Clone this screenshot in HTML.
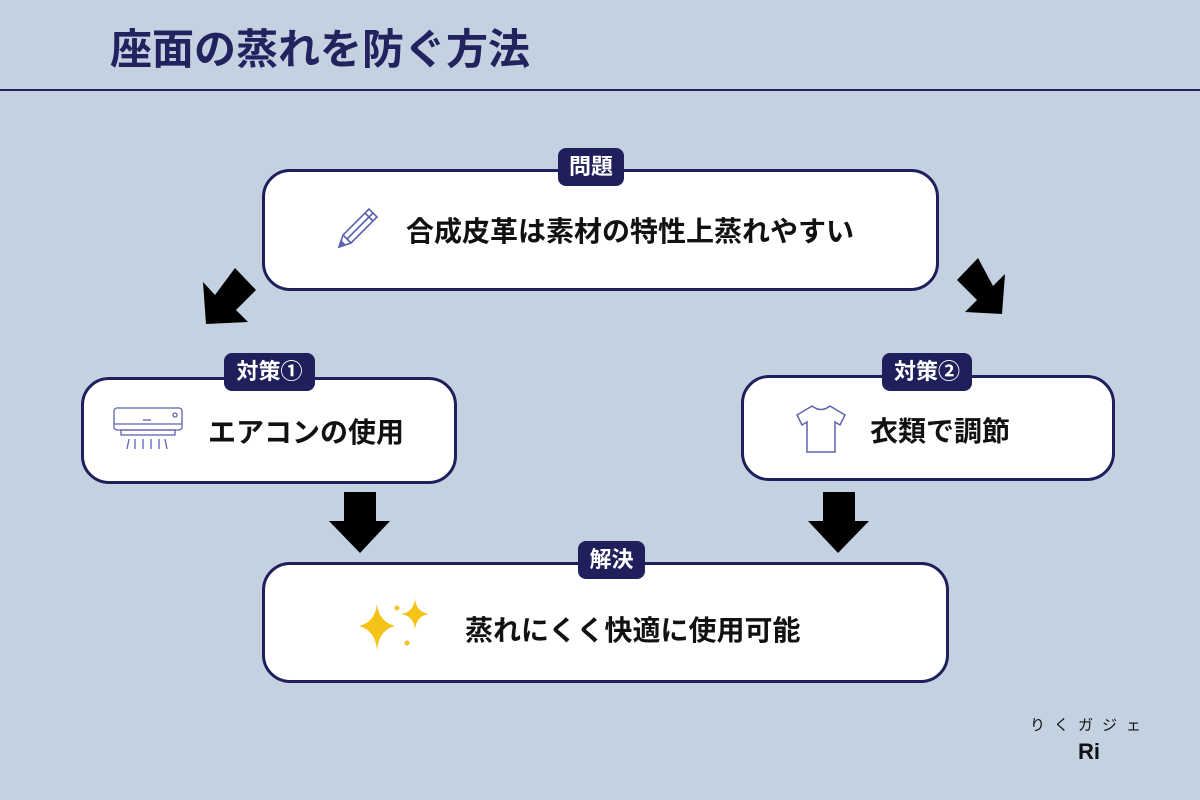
<!DOCTYPE html>
<html><head><meta charset="utf-8"><style>
body{margin:0;width:1200px;height:800px;background:#c3d1e1;position:relative;overflow:hidden;font-family:"Liberation Sans","Noto Sans CJK JP",sans-serif}
.t{position:absolute;left:110px;top:24px;font-size:42px;font-weight:bold;color:#22225e;line-height:52px}
.hl{position:absolute;left:0;top:89px;width:1200px;height:2px;background:#22225e}
.box{position:absolute;background:#fff;border:3px solid #1f1f5c;border-radius:28px;box-sizing:border-box}
.lab{position:absolute;background:#1f1f5c;color:#fff;font-weight:bold;font-size:22px;border-radius:8px;text-align:center;line-height:38px;height:38px}
.tx{position:absolute;font-size:28px;line-height:36px;font-weight:bold;color:#111;white-space:nowrap}
</style></head><body>
<div class="t">座面の蒸れを防ぐ方法</div>
<div class="hl"></div>

<div class="box" style="left:262px;top:169px;width:677px;height:122px"></div>
<div class="lab" style="left:558px;top:148px;width:66px">問題</div>
<svg style="position:absolute;left:336px;top:205px" width="45" height="45" viewBox="0 0 45 45"><g fill="none" stroke="#5b63b0" stroke-width="1.6"><path d="M3 42 L7 30 L33 4 L41 12 L15 38 Z"/><path d="M7 30 L15 38 M11 34 L37 8 M29 8 L37 16"/><path d="M3 42 L5 36 L9 40 Z" fill="#5b63b0"/></g></svg>
<div class="tx" style="left:406px;top:214px">合成皮革は素材の特性上蒸れやすい</div>

<div class="box" style="left:81px;top:377px;width:376px;height:107px"></div>
<div class="lab" style="left:224px;top:353px;width:91px">対策①</div>
<svg style="position:absolute;left:113px;top:407px" width="72" height="46" viewBox="0 0 72 46"><g fill="none" stroke="#5b63b0" stroke-width="1.3"><rect x="1" y="1" width="68" height="22" rx="3"/><line x1="1" y1="17" x2="69" y2="17"/><rect x="8" y="23" width="54" height="5"/><line x1="30" y1="13" x2="38" y2="13"/><circle cx="62" cy="8" r="2"/><path d="M14 42 L16 32 M22 42 L22 32 M30 42 L30 32 M38 42 L38 32 M46 42 L46 32 M54 42 L52 32"/></g></svg>
<div class="tx" style="left:208px;top:415px">エアコンの使用</div>

<div class="box" style="left:741px;top:375px;width:374px;height:106px"></div>
<div class="lab" style="left:882px;top:353px;width:90px">対策②</div>
<svg style="position:absolute;left:795px;top:403px" width="52" height="52" viewBox="0 0 52 52"><path d="M17 3 Q26 10 35 3 L50 12 L45 22 L40 19 L40 49 L12 49 L12 19 L7 22 L2 12 Z" fill="none" stroke="#5b63b0" stroke-width="1.5"/></svg>
<div class="tx" style="left:870px;top:414px">衣類で調節</div>

<div class="box" style="left:262px;top:562px;width:687px;height:121px"></div>
<div class="lab" style="left:578px;top:541px;width:67px">解決</div>
<svg style="position:absolute;left:355px;top:598px" width="80" height="60" viewBox="0 0 80 60"><g fill="#f5c218"><path d="M22 6 Q24 24 40 28 Q24 32 22 52 Q20 32 4 28 Q20 24 22 6Z"/><path d="M60 0 Q61 14 74 16 Q61 18 60 32 Q59 18 46 16 Q59 14 60 0Z"/><circle cx="42" cy="10" r="2.5"/><circle cx="52" cy="45" r="2.5"/></g></svg>
<div class="tx" style="left:465px;top:613px">蒸れにくく快適に使用可能</div>

<svg style="position:absolute;left:0;top:0" width="1200" height="800">
<g fill="#000">
<polygon points="235,268 256,290 236,310 248,322 206,324 203,282 215,295"/>
<polygon points="978,258 957,280 977,300 965,312 1002,314 1005,274 993,286"/>
<polygon points="344,492 376,492 376,521 390,521 360,553 329,521 344,521"/>
<polygon points="823,492 855,492 855,521 869,521 838,553 808,521 823,521"/>
</g></svg>

<div style="position:absolute;left:1030px;top:714px;font-size:15px;color:#111;letter-spacing:9px">りくガジェ</div>
<div style="position:absolute;left:1078px;top:739px;font-size:22px;font-weight:bold;color:#111">Ri</div>
</body></html>
